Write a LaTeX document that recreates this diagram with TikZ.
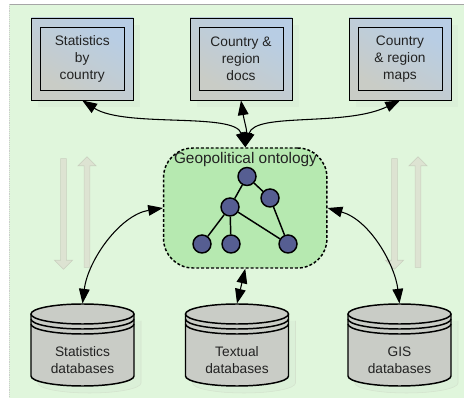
\documentclass[tikz,border=0pt]{standalone}
\usepackage{fontspec}
\setmainfont{Liberation Sans}
\usetikzlibrary{arrows.meta,shapes.arrows,shadows}
\definecolor{pagegreen}{HTML}{E0F6DC}
\definecolor{ontogreen}{HTML}{B6E9B0}
\definecolor{shadegreen}{HTML}{DBF0D8}
\definecolor{boxgrey}{HTML}{C9CCC6}
\definecolor{boxblue}{HTML}{B8CDE4}
\definecolor{treeblue}{HTML}{565E92}
\definecolor{flowfill}{HTML}{DDE3D2}
\definecolor{flowline}{HTML}{C9CFBE}
\definecolor{inktext}{HTML}{222222}

\newcommand{\dbstack}[3]{%
  \begin{scope}[shift={(#2,0)}]
    \draw[draw=flowline!40!shadegreen,fill=shadegreen,thin] (7,321) -- (7,383)
      arc[start angle=180,end angle=0,x radius=51.5,y radius=10] -- (110,321);
    \draw[dbline,fill=boxgrey] (0,314) -- (0,376)
      arc[start angle=180,end angle=0,x radius=51.5,y radius=10] -- (103,314);
    \draw[dbline,fill=boxgrey] (51.5,314) ellipse [x radius=51.5,y radius=10];
    \draw[dbline] (0,319) arc[start angle=180,end angle=0,x radius=51.5,y radius=10];
    \draw[dbline] (0,324) arc[start angle=180,end angle=0,x radius=51.5,y radius=10];
    \coordinate (#1) at (51.5,303.5);
    \node[labeltext] (#1 label) at (51.5,360) {#3};
  \end{scope}}

\begin{document}
\begin{tikzpicture}[x=0.75pt,y=-0.75pt,
  labeltext/.style={font=\fontsize{10.3}{12.75}\selectfont,align=center,text=inktext,inner sep=0pt},
  dbline/.style={line width=1.1pt,draw=black},
  outer box/.style={draw=black,line width=0.7pt,minimum width=76.5pt,minimum height=61.5pt,
    general shadow={shadow xshift=5.25pt,shadow yshift=-5.25pt,fill=shadegreen,opacity=1},
    shading=axis,left color=boxgrey,right color=boxblue,shading angle=150},
  inner box/.style={labeltext,draw=black,line width=0.7pt,minimum width=63pt,minimum height=47.5pt,
    shading=axis,left color=boxgrey,right color=boxblue,shading angle=150},
  tree node/.style={circle,draw=black,line width=1.1pt,fill=treeblue,minimum size=13.5pt,inner sep=0pt},
  tree edge/.style={draw=black,line width=1.1pt},
  link/.style={<->,>={Triangle[length=11pt,width=8pt]},line width=0.8pt,black},
  flow/.style={single arrow,draw=flowline,fill=flowfill,line width=0.5pt,inner xsep=0pt,inner ysep=1.9pt,
    single arrow head extend=4.6pt,single arrow head indent=0pt,minimum height=83pt}]

  \useasboundingbox (0,0) rectangle (464,398);

  % page
  \fill[pagegreen] (9,4) rectangle (464,398);
  \draw[gray!70,line width=0.6pt] (9,4) -- (464,4);
  \draw[gray!40,densely dotted,line width=0.4pt] (9,4) -- (9,398);

  % flows
  \node[flow,rotate=-90] (flow a) at (63.5,212.5) {};
  \node[flow,rotate=90] (flow b) at (87,213.5) {};
  \node[flow,rotate=-90] (flow c) at (394.5,212.5) {};
  \node[flow,rotate=90] (flow d) at (418,213.5) {};

  % top
  \node[outer box] (stat box) at (82.25,59) {};
  \node[inner box] (stat text) at (stat box) {Statistics\\by\\country};
  \node[outer box] (docs box) at (241,59) {};
  \node[inner box] (docs text) at (docs box) {Country \&\\region\\docs};
  \node[outer box] (maps box) at (400,59) {};
  \node[inner box] (maps text) at (maps box) {Country\\\& region\\maps};

  % ontology
  \node[draw=black,fill=ontogreen,dash pattern=on 2.2pt off 1.5pt,line width=1.1pt,rounded corners=22pt,
    minimum width=122.5pt,minimum height=90pt] (ontology) at (245.25,208) {};
  \node[labeltext,font=\fontsize{11.55}{14}\selectfont] (onto title) at (245.5,160) {Geopolitical ontology};

  \node[tree node] (root) at (247,176.5) {};
  \node[tree node] (right) at (270,198) {};
  \node[tree node] (mid) at (230,207) {};
  \node[tree node] (leaf a) at (202,244) {};
  \node[tree node] (leaf b) at (231,244) {};
  \node[tree node] (leaf c) at (288,244) {};

  \path[tree edge]
    (root) edge (mid)
           edge (right)
    (mid) edge (leaf a)
          edge (leaf b)
          edge (leaf c)
    (right) edge (leaf c);

  % databases
  \dbstack{stat db}{31}{Statistics\\databases}
  \dbstack{text db}{185.5}{Textual\\databases}
  \dbstack{gis db}{348}{GIS\\databases}

  % links
  \draw[link] (ontology.north) .. controls (235,112) and (125,128) .. (stat box.south);
  \draw[link] (ontology.north) .. controls (247,130) and (244,120) .. (docs box.south);
  \draw[link] (ontology.north) .. controls (255,112) and (345,127) .. (maps box.south);
  \draw[link] (ontology.west) .. controls (120,215) and (88,260) .. (stat db);
  \draw[link] (ontology.south) -- (text db);
  \draw[link] (ontology.east) .. controls (370,220) and (395,265) .. (gis db);

\end{tikzpicture}
\end{document}
